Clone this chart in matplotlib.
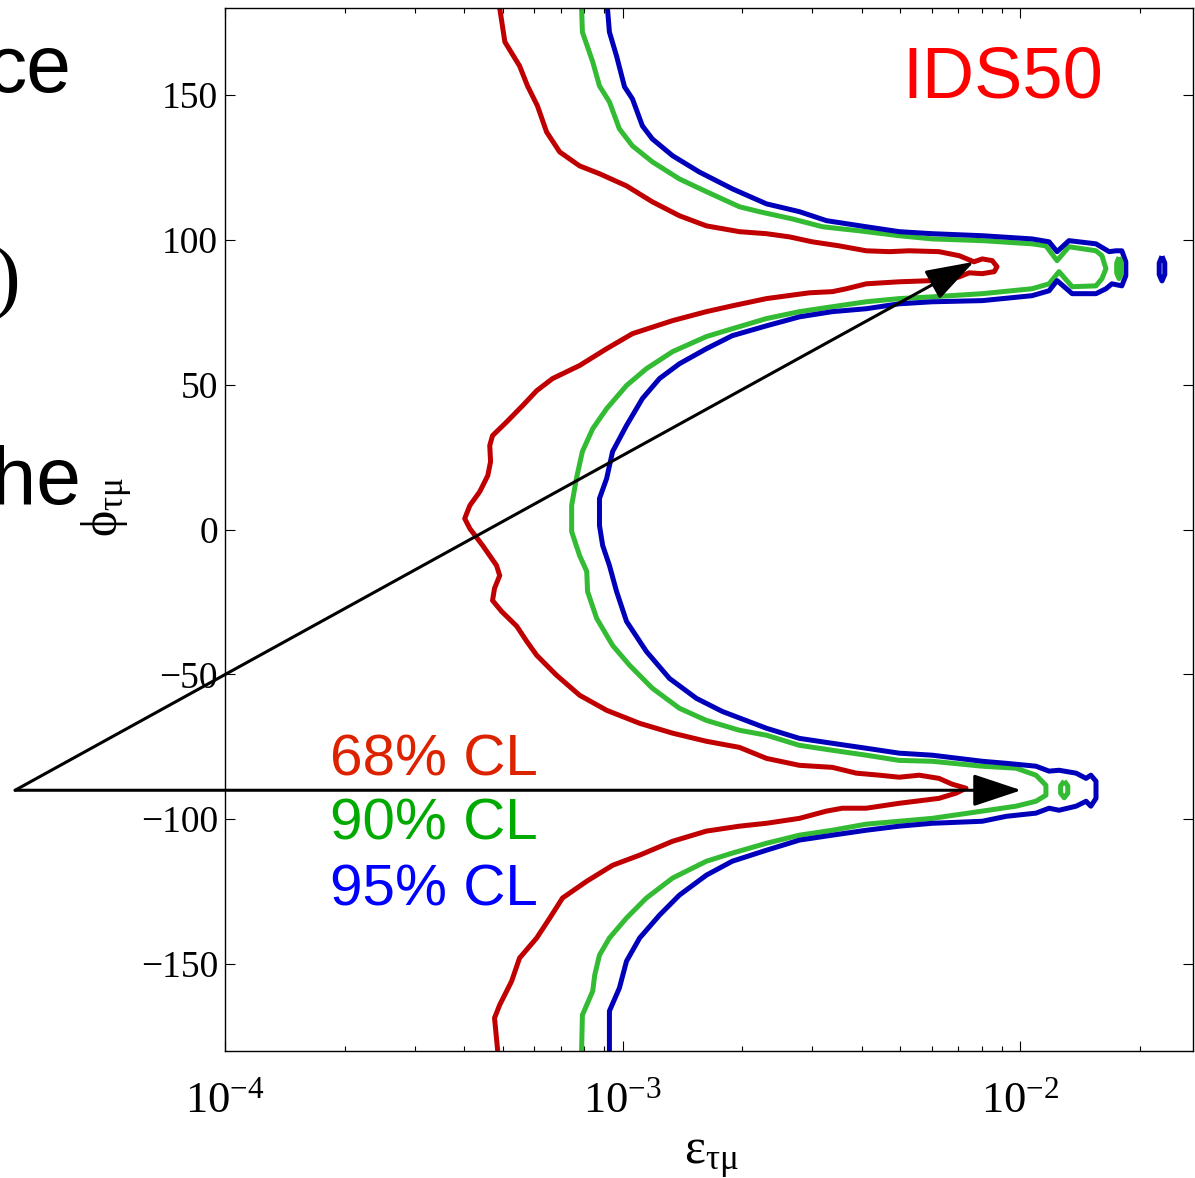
import numpy as np
import matplotlib.pyplot as plt

plt.rcParams['font.family'] = ['Liberation Serif', 'DejaVu Serif']
plt.rcParams['mathtext.fontset'] = 'custom'
plt.rcParams['mathtext.rm'] = 'Liberation Serif'
plt.rcParams['mathtext.it'] = 'Liberation Serif:italic'
plt.rcParams['axes.unicode_minus'] = True

# contour lines: log10(eps_tau_mu) and phi_tau_mu (deg)
red_log_eps = [-3.309, -3.296, -3.259, -3.239, -3.214, -3.191, -3.158, -3.108, -3.058, -2.990,
               -2.925, -2.857, -2.789, -2.706, -2.638, -2.580, -2.523, -2.455, -2.387, -2.329,
               -2.279, -2.204, -2.153, -2.116, -2.095, -2.070, -2.058, -2.065, -2.095, -2.128,
               -2.153, -2.178, -2.221, -2.304, -2.387, -2.437, -2.472, -2.530, -2.638, -2.724,
               -2.789, -2.874, -2.975, -3.040, -3.108, -3.176, -3.216, -3.251, -3.291, -3.327,
               -3.334, -3.332, -3.339, -3.359, -3.384, -3.397, -3.384, -3.352, -3.317, -3.309,
               -3.322, -3.327, -3.304, -3.266, -3.241, -3.216, -3.166, -3.108, -3.040, -2.957,
               -2.874, -2.789, -2.706, -2.638, -2.555, -2.472, -2.412, -2.354, -2.304, -2.254,
               -2.204, -2.171, -2.136, -2.161, -2.204, -2.304, -2.387, -2.447, -2.487, -2.555,
               -2.638, -2.706, -2.789, -2.874, -2.957, -3.025, -3.090, -3.151, -3.183, -3.216,
               -3.259, -3.279, -3.309, -3.322, -3.314]
red_phi = [180.0, 168.3, 160.0, 153.1, 146.2, 137.2, 130.3, 125.5, 122.8, 118.6,
           113.1, 108.3, 104.8, 102.8, 102.1, 101.0, 99.3, 97.9, 96.2, 95.9,
           96.2, 95.9, 94.5, 92.4, 93.4, 92.8, 90.7, 89.0, 88.3, 88.6,
           87.2, 86.2, 85.9, 85.5, 84.8, 83.1, 82.1, 81.7, 79.7, 77.2,
           75.2, 72.1, 67.6, 62.4, 56.6, 52.1, 47.9, 42.8, 37.2, 32.4,
           29.0, 23.4, 18.6, 13.1, 8.3, 3.8, 0.3, -5.5, -12.4, -15.9,
           -20.3, -24.5, -28.3, -33.4, -38.6, -43.4, -50.3, -57.2, -62.4, -66.9,
           -70.3, -73.1, -75.2, -79.0, -81.4, -82.1, -84.1, -84.8, -85.5, -84.8,
           -85.9, -87.9, -89.3, -91.0, -92.8, -94.5, -96.2, -96.2, -97.2, -99.7,
           -101.4, -102.4, -104.1, -107.6, -112.4, -115.9, -121.4, -127.2, -134.1, -141.0,
           -147.9, -155.9, -164.1, -168.6, -180.0]

green_log_eps = [-3.103, -3.101, -3.075, -3.058, -3.033, -3.008, -2.975, -2.925, -2.857, -2.789,
                 -2.706, -2.656, -2.573, -2.497, -2.405, -2.304, -2.221, -2.095, -1.970, -1.935,
                 -1.907, -1.877, -1.809, -1.794, -1.784, -1.794, -1.809, -1.869, -1.902, -1.927,
                 -1.970, -2.095, -2.221, -2.304, -2.387, -2.472, -2.555, -2.638, -2.724, -2.789,
                 -2.874, -2.940, -2.990, -3.040, -3.075, -3.101, -3.116, -3.128, -3.128, -3.108,
                 -3.090, -3.088, -3.065, -3.025, -2.982, -2.925, -2.857, -2.789, -2.706, -2.638,
                 -2.555, -2.472, -2.387, -2.304, -2.221, -2.095, -2.010, -1.960, -1.935, -1.935,
                 -1.960, -2.010, -2.095, -2.221, -2.304, -2.387, -2.472, -2.555, -2.638, -2.724,
                 -2.789, -2.874, -2.940, -2.990, -3.033, -3.058, -3.070, -3.075, -3.101, -3.103]
green_phi = [180.0, 171.7, 161.4, 153.1, 147.6, 138.3, 132.4, 126.9, 121.0, 116.6,
             111.4, 109.7, 107.2, 104.5, 103.1, 101.4, 100.3, 99.7, 98.6, 97.9,
             92.8, 97.6, 96.2, 94.5, 90.0, 86.6, 84.1, 83.8, 89.0, 84.8,
             83.1, 81.4, 80.3, 79.7, 78.6, 76.9, 75.2, 72.8, 69.3, 66.6,
             61.4, 55.5, 49.7, 41.7, 34.8, 26.9, 17.6, 8.3, -0.7, -9.0,
             -14.5, -21.4, -30.7, -40.0, -46.9, -54.8, -61.7, -65.9, -69.3, -71.0,
             -74.5, -76.2, -77.9, -79.7, -80.0, -81.7, -82.4, -84.8, -88.3, -91.7,
             -93.8, -95.5, -97.2, -99.7, -100.7, -101.7, -103.8, -105.5, -108.3, -111.7,
             -114.5, -120.3, -127.2, -134.1, -141.0, -146.9, -153.8, -159.3, -167.6, -180.0]

blue_log_eps = [-3.038, -3.033, -3.015, -2.995, -2.975, -2.950, -2.925, -2.874, -2.807, -2.724,
                -2.638, -2.555, -2.487, -2.387, -2.304, -2.221, -2.095, -1.970, -1.927, -1.907,
                -1.877, -1.809, -1.776, -1.759, -1.744, -1.734, -1.734, -1.744, -1.769, -1.784,
                -1.809, -1.869, -1.907, -1.927, -1.970, -2.095, -2.221, -2.304, -2.387, -2.472,
                -2.555, -2.638, -2.724, -2.789, -2.857, -2.907, -2.950, -2.990, -3.025, -3.040,
                -3.058, -3.058, -3.050, -3.033, -3.015, -2.990, -2.940, -2.882, -2.814, -2.749,
                -2.638, -2.555, -2.472, -2.387, -2.304, -2.221, -2.095, -2.035, -1.960, -1.927,
                -1.902, -1.859, -1.834, -1.822, -1.809, -1.809, -1.822, -1.834, -1.859, -1.902,
                -1.927, -1.960, -2.035, -2.095, -2.221, -2.304, -2.387, -2.472, -2.555, -2.638,
                -2.724, -2.789, -2.857, -2.907, -2.957, -2.990, -3.008, -3.033, -3.033]
blue_phi = [180.0, 171.7, 163.4, 152.8, 148.6, 139.3, 134.8, 129.0, 123.4, 117.6,
            112.4, 109.7, 106.6, 104.5, 102.8, 102.1, 101.4, 100.3, 99.3, 95.9,
            99.7, 98.6, 95.9, 96.2, 96.2, 92.4, 87.6, 84.1, 84.8, 83.1,
            81.4, 81.4, 85.9, 82.4, 80.7, 79.0, 78.6, 77.9, 76.2, 75.2,
            73.4, 70.3, 66.9, 62.4, 57.2, 52.1, 45.2, 35.9, 26.9, 17.6,
            10.7, 1.4, -5.5, -12.4, -21.4, -31.7, -42.1, -51.4, -58.3, -62.8,
            -68.6, -72.1, -73.8, -75.5, -77.2, -77.9, -80.0, -80.7, -81.7, -83.4,
            -83.1, -84.1, -85.9, -84.8, -86.9, -92.8, -95.5, -93.8, -95.5, -96.9,
            -96.2, -97.9, -99.0, -100.7, -101.4, -102.4, -103.8, -105.5, -107.2, -110.7,
            -114.5, -119.3, -126.2, -133.1, -141.0, -149.0, -158.3, -166.2, -180.0]

# small closed islands
green_isle_up_log_eps = [-1.751, -1.745, -1.745, -1.751, -1.757, -1.757, -1.751]
green_isle_up_phi = [94.0, 92.0, 88.5, 86.6, 88.5, 92.0, 94.0]
green_isle_dn_log_eps = [-1.889, -1.880, -1.880, -1.889, -1.898, -1.898, -1.889]
green_isle_dn_phi = [-86.8, -88.5, -91.0, -92.6, -91.0, -88.5, -86.8]
blue_isle_log_eps = [-1.643, -1.636, -1.636, -1.643, -1.650, -1.650, -1.643]
blue_isle_phi = [94.3, 92.0, 88.0, 85.8, 88.0, 92.0, 94.3]

# arrows: common tail and two heads
arrow_tail = (10 ** -4.528, -90.0)
arrow_head_up = (10 ** -2.116, 92.4)
arrow_head_flat = (10 ** -1.997, -90.0)

cl_labels = ['68% CL', '90% CL', '95% CL']
cl_text_colors = ['#dd2200', '#00aa00', '#0000ff']
line_colors = ['#c00000', '#33bb33', '#0000bb']

fig = plt.figure(figsize=(11.95, 11.78), dpi=100)
ax = fig.add_axes([225 / 1195, 1 - 1051 / 1178, 968 / 1195, 1043 / 1178])

lw = 3.6
curves = [(red_log_eps, red_phi, 0), (green_log_eps, green_phi, 1), (blue_log_eps, blue_phi, 2),
          (green_isle_up_log_eps, green_isle_up_phi, 1), (green_isle_dn_log_eps, green_isle_dn_phi, 1),
          (blue_isle_log_eps, blue_isle_phi, 2)]
for le, ph, c in curves:
    ax.plot(10 ** np.array(le), ph, color=line_colors[c], lw=lw,
            solid_joinstyle='round', solid_capstyle='butt')

ax.set_xscale('log')
ax.set_xlim(1e-4, 10 ** -1.565)
ax.set_ylim(-180, 180)
ax.set_yticks([-150, -100, -50, 0, 50, 100, 150])
ax.tick_params(which='both', direction='in', top=True, right=True)
ax.tick_params(which='major', length=7, width=0.8)
ax.tick_params(which='minor', length=3.5, width=0.8)
ax.tick_params(axis='y', labelsize=27, pad=5)
ax.tick_params(axis='x', labelsize=32, pad=22)
ax.minorticks_on()
ax.yaxis.set_minor_locator(plt.NullLocator())
for s in ax.spines.values():
    s.set_linewidth(1.0)

ax.set_xlabel(r'$\mathrm{\varepsilon}_{\mathrm{\tau\mu}}$', fontsize=36)
ax.xaxis.set_label_coords(0.503, -0.08)
ax.set_ylabel(r'$\mathrm{\phi}_{\mathrm{\tau\mu}}$', fontsize=36)
ax.yaxis.set_label_coords(-0.093, 0.522)

arrow_style = dict(arrowstyle='-|>,head_length=1.5,head_width=0.5', lw=2.2, color='k',
                   shrinkA=0, shrinkB=0, mutation_scale=20)
ax.annotate('', xy=arrow_head_up, xytext=arrow_tail, arrowprops=arrow_style, annotation_clip=False)
ax.annotate('', xy=arrow_head_flat, xytext=arrow_tail, arrowprops=arrow_style, annotation_clip=False)

fig.text(1003 / 1195, 1 - 98 / 1178, 'IDS50', color='#ff0000', fontsize=52,
         family='Liberation Sans', ha='center', va='baseline')
for i, (lab, col) in enumerate(zip(cl_labels, cl_text_colors)):
    fig.text(330 / 1195, 1 - (775 + 65 * i) / 1178, lab, color=col, fontsize=42,
             family='Liberation Sans', ha='left', va='baseline')

# pieces of the slide text cut off at the left edge
fig.text(72 / 1195, 1 - 92 / 1178, 'ce', fontsize=58, family='Liberation Sans',
         ha='right', va='baseline')
fig.text(20 / 1195, 1 - 303 / 1178, ')', fontsize=60, family='Liberation Serif',
         ha='right', va='baseline')
fig.text(82 / 1195, 1 - 504 / 1178, 'the', fontsize=58, family='Liberation Sans',
         ha='right', va='baseline')

fig.savefig('out.png', dpi=100)
